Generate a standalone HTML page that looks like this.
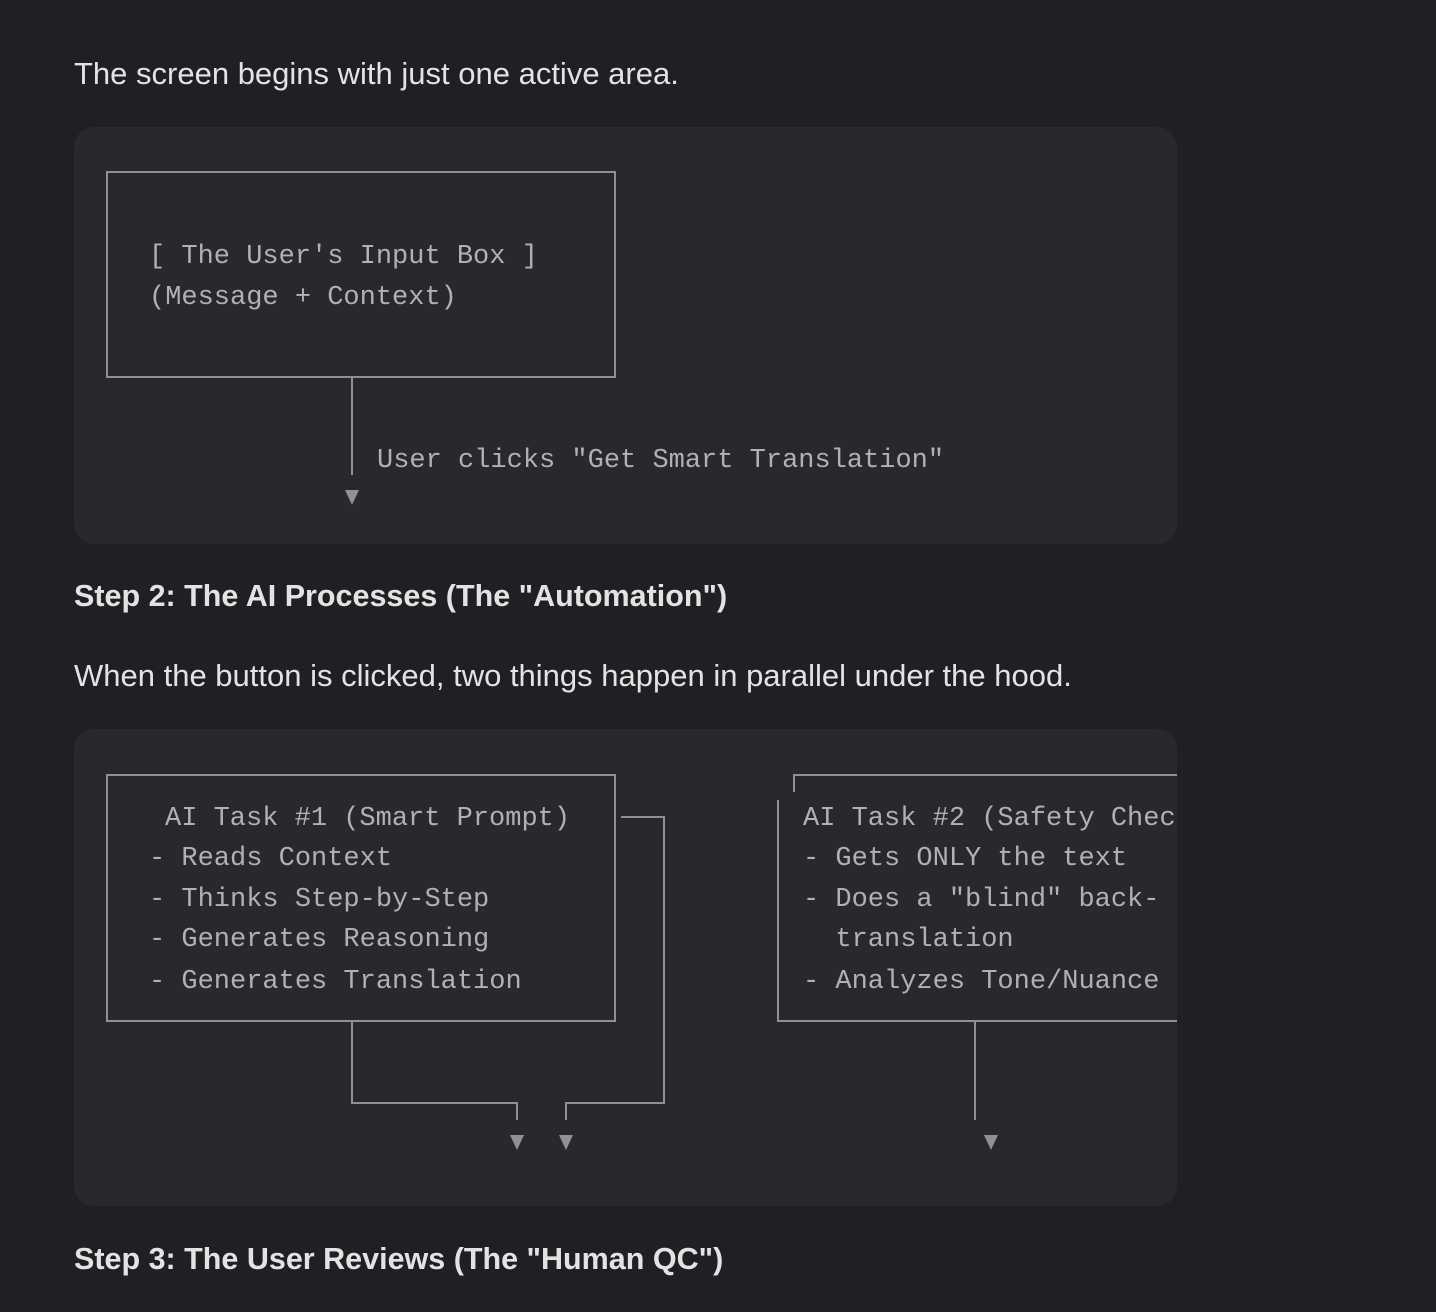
<!DOCTYPE html>
<html><head><meta charset="utf-8"><style>
html,body{margin:0;padding:0}
body{width:1436px;height:1312px;background:#1f2023;position:relative;overflow:hidden;font-family:"Liberation Sans",sans-serif;color:#e3e3e3}
.p{position:absolute;left:74px;font-size:31px;white-space:nowrap}
.b{font-weight:bold;font-size:30.5px}
.code{position:absolute;left:74px;width:1103px;background:#28292c;border-radius:20px;overflow:hidden}
.t{position:absolute;font-family:"Liberation Mono",monospace;font-size:27px;color:#aeb1b6;white-space:pre;line-height:1}
svg{position:absolute;left:0;top:0}
</style></head><body>
<div class="p" style="top:56px">The screen begins with just one active area.</div>

<div class="code" style="top:127px;height:417px">
<svg width="1103" height="417" viewBox="74 127 1103 417">
<g stroke="#8e9196" stroke-width="2" fill="none">
<rect x="107" y="172" width="508" height="205"/>
<line x1="352" y1="377" x2="352" y2="475"/>
</g>
<polygon points="345,490 359,490 352,505" fill="#8e9196"/>
</svg>
<div class="t" style="left:75px;top:117px">[ The User's Input Box ]</div>
<div class="t" style="left:75px;top:158px">(Message + Context)</div>
<div class="t" style="left:303px;top:321px">User clicks "Get Smart Translation"</div>
</div>

<div class="p b" style="top:579px">Step 2: The AI Processes (The "Automation")</div>
<div class="p" style="top:658px">When the button is clicked, two things happen in parallel under the hood.</div>

<div class="code" style="top:729px;height:477px">
<svg width="1103" height="477" viewBox="74 729 1103 477">
<g stroke="#8e9196" stroke-width="2" fill="none">
<rect x="107" y="775" width="508" height="246"/>
<polyline points="621,817 664,817 664,1103 566,1103 566,1120"/>
<polyline points="352,1021 352,1103 517,1103 517,1120"/>
<polyline points="794,792 794,775 1180,775"/>
<polyline points="778,800 778,1021 1180,1021"/>
<line x1="975" y1="1021" x2="975" y2="1120"/>
</g>
<g fill="#8e9196">
<polygon points="510,1135 524,1135 517,1150"/>
<polygon points="559,1135 573,1135 566,1150"/>
<polygon points="984,1135 998,1135 991,1150"/>
</g>
</svg>
<div class="t" style="left:91px;top:77px">AI Task #1 (Smart Prompt)</div>
<div class="t" style="left:75px;top:117px">- Reads Context</div>
<div class="t" style="left:75px;top:158px">- Thinks Step-by-Step</div>
<div class="t" style="left:75px;top:198px">- Generates Reasoning</div>
<div class="t" style="left:75px;top:240px">- Generates Translation</div>
<div class="t" style="left:729px;top:77px">AI Task #2 (Safety Check)</div>
<div class="t" style="left:729px;top:117px">- Gets ONLY the text</div>
<div class="t" style="left:729px;top:158px">- Does a "blind" back-</div>
<div class="t" style="left:729px;top:198px">  translation</div>
<div class="t" style="left:729px;top:240px">- Analyzes Tone/Nuance</div>
</div>

<div class="p b" style="top:1242px">Step 3: The User Reviews (The "Human QC")</div>
</body></html>
